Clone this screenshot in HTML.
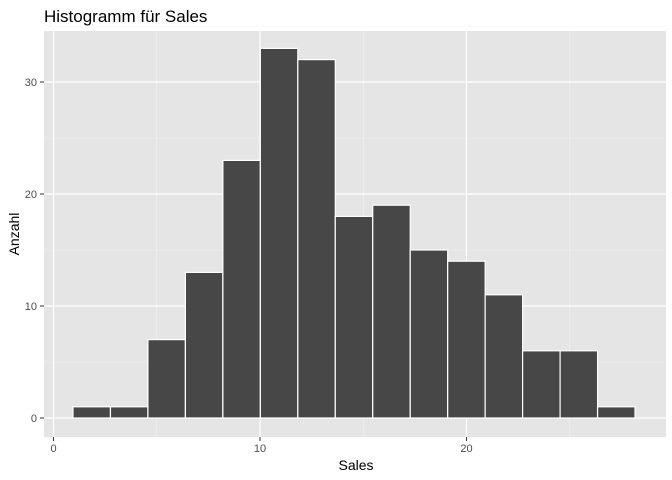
<!DOCTYPE html>
<html><head><meta charset="utf-8"><style>body{margin:0;background:#fff}svg{display:block;font-family:"Liberation Sans",sans-serif}</style></head>
<body>
<svg id="c" width="672" height="480">
<text x="44" y="22" font-size="17" fill="#000">Histogramm für Sales</text>
<rect x="44" y="31" width="622" height="406" fill="#e5e5e5"/>
<g id="grid"></g><g id="bars"></g><g id="axes"></g>
<text x="356" y="470" font-size="14" text-anchor="middle">Sales</text>
<text transform="translate(19,234) rotate(-90)" font-size="14" text-anchor="middle">Anzahl</text>
</svg>
<script>
const counts=[1,1,7,13,23,33,32,18,19,15,14,11,6,6,1];
const binStart=0.944;
const binWidth=1.8145;
const xTicks=[0,10,20];
const yTicks=[0,10,20,30];
const NS="http://www.w3.org/2000/svg";
const X=v=>53.5+v*20.65, Y=v=>418-v*11.2;
function mk(t,a,p){const e=document.createElementNS(NS,t);for(const k in a)e.setAttribute(k,a[k]);p.appendChild(e);return e;}
const g=document.getElementById('grid'),b=document.getElementById('bars'),ax=document.getElementById('axes');
for(let i=0;i<xTicks.length-1;i++){const m=(xTicks[i]+xTicks[i+1])/2;const l=mk('line',{x1:X(m),x2:X(m),y1:31,y2:437,stroke:'#f2f2f2','stroke-width':0.6},g);}
{const m=xTicks[xTicks.length-1]+5;const l=mk('line',{x1:X(m),x2:X(m),y1:31,y2:437,stroke:'#f2f2f2','stroke-width':0.6},g);}
for(let i=0;i<yTicks.length;i++){const m=yTicks[i]+5;const l=mk('line',{x1:44,x2:666,y1:Y(m),y2:Y(m),stroke:'#f2f2f2','stroke-width':0.6},g);}
xTicks.forEach(v=>{const l=mk('line',{x1:X(v),x2:X(v),y1:31,y2:437,stroke:'#fff','stroke-width':1.2},g);
const t=mk('line',{x1:X(v),x2:X(v),y1:437,y2:441,stroke:'#333'},ax);
const s=mk('text',{x:X(v),y:452,'font-size':11,fill:'#4d4d4d','text-anchor':'middle'},ax);s.textContent=v;});
yTicks.forEach(v=>{const l=mk('line',{x1:44,x2:666,y1:Y(v),y2:Y(v),stroke:'#fff','stroke-width':1.2},g);
const t=mk('line',{x1:40,x2:44,y1:Y(v),y2:Y(v),stroke:'#333'},ax);
const s=mk('text',{x:37,y:Y(v)+4,'font-size':11,fill:'#4d4d4d','text-anchor':'end'},ax);s.textContent=v;});
counts.forEach((c,i)=>{const x0=X(binStart+i*binWidth),x1=X(binStart+(i+1)*binWidth);
const r=mk('rect',{x:x0,y:Y(c),width:x1-x0,height:Y(0)-Y(c),fill:'#474747',stroke:'#fff','stroke-width':1.2},b);
});
</script>
</body></html>
